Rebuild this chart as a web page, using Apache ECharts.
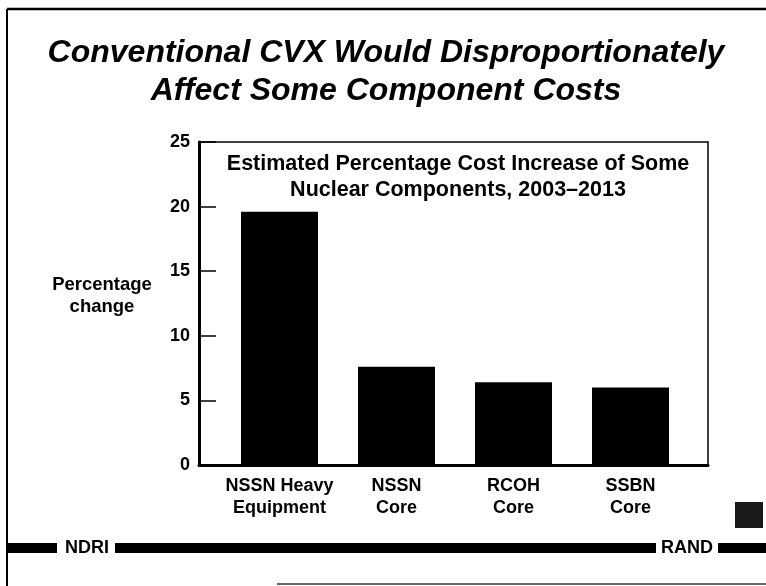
<!DOCTYPE html>
<html>
<head>
<meta charset="utf-8">
<script src="https://cdn.jsdelivr.net/npm/echarts@6/dist/echarts.min.js"></script>
<style>
  html, body { margin: 0; padding: 0; background: #fff; }
  #chart { width: 766px; height: 586px; }
</style>
</head>
<body>
<div id="chart"></div>
<script>
// values
const categories = ['NSSN Heavy\nEquipment', 'NSSN\nCore', 'RCOH\nCore', 'SSBN\nCore']
const increases = [19.6, 7.6, 6.4, 6.0]
const yMin = 0
const yMax = 25
const yStep = 5

const FONT = '"Liberation Sans", Arial, Helvetica, sans-serif'

const chart = echarts.init(document.getElementById('chart'))

// frame grid (axes + box) and bar grid share the same vertical extent
const plotTop = 142
const plotBottom = 121

chart.setOption({
  backgroundColor: '#fff',
  animation: false,
  grid: [
    {
      left: 199, right: 58, top: plotTop, bottom: plotBottom,
      show: true, borderColor: '#000', borderWidth: 1.5
    },
    { left: 221, right: 77, top: plotTop, bottom: plotBottom }
  ],
  xAxis: [
    {
      gridIndex: 0,
      type: 'category',
      data: categories,
      axisLine: { lineStyle: { color: '#000', width: 3 } },
      axisTick: { show: false },
      axisLabel: { show: false }
    },
    {
      gridIndex: 1,
      type: 'category',
      data: categories,
      axisLine: { show: false },
      axisTick: { show: false },
      axisLabel: {
        interval: 0,
        margin: 10,
        color: '#000',
        fontFamily: FONT,
        fontWeight: 'bold',
        fontSize: 18,
        lineHeight: 22
      }
    }
  ],
  yAxis: [
    {
      gridIndex: 0,
      type: 'value',
      min: yMin,
      max: yMax,
      interval: yStep,
      axisLine: { show: true, lineStyle: { color: '#000', width: 3 } },
      axisTick: { show: true, inside: true, length: 17, lineStyle: { color: '#000', width: 1.5 } },
      splitLine: { show: false },
      axisLabel: {
        margin: 9,
        color: '#000',
        fontFamily: FONT,
        fontWeight: 'bold',
        fontSize: 18
      }
    },
    {
      gridIndex: 1,
      type: 'value',
      min: yMin,
      max: yMax,
      interval: yStep,
      show: false
    }
  ],
  series: [
    {
      type: 'bar',
      xAxisIndex: 1,
      yAxisIndex: 1,
      data: increases,
      barWidth: 77,
      itemStyle: { color: '#000' }
    }
  ],
  graphic: [
    // slide frame
    { type: 'line', shape: { x1: 7, y1: 9, x2: 766, y2: 9 }, style: { stroke: '#000', lineWidth: 2.5 } },
    { type: 'line', shape: { x1: 7, y1: 9, x2: 7, y2: 586 }, style: { stroke: '#000', lineWidth: 2 } },
    { type: 'line', shape: { x1: 277, y1: 584, x2: 766, y2: 584 }, style: { stroke: '#333', lineWidth: 1.5 } },
    // title
    {
      type: 'text', x: 386, y: 34,
      style: {
        text: 'Conventional CVX Would Disproportionately\nAffect Some Component Costs',
        font: 'italic bold 32px ' + FONT,
        fill: '#000', align: 'center', verticalAlign: 'top', lineHeight: 38
      }
    },
    // chart caption inside the box
    {
      type: 'text', x: 458, y: 151,
      style: {
        text: 'Estimated Percentage Cost Increase of Some\nNuclear Components, 2003\u20132013',
        font: 'bold 21.5px ' + FONT,
        fill: '#000', align: 'center', verticalAlign: 'top', lineHeight: 26
      }
    },
    // y axis name
    {
      type: 'text', x: 102, y: 274,
      style: {
        text: 'Percentage\nchange',
        font: 'bold 18.5px ' + FONT,
        fill: '#000', align: 'center', verticalAlign: 'top', lineHeight: 22
      }
    },
    // footer band
    { type: 'rect', shape: { x: 7, y: 543, width: 50, height: 10 }, style: { fill: '#000' } },
    { type: 'rect', shape: { x: 115, y: 543, width: 541, height: 10 }, style: { fill: '#000' } },
    { type: 'rect', shape: { x: 718, y: 543, width: 48, height: 10 }, style: { fill: '#000' } },
    {
      type: 'text', x: 87, y: 548,
      style: { text: 'NDRI', font: 'bold 18px ' + FONT, fill: '#000', align: 'center', verticalAlign: 'middle' }
    },
    {
      type: 'text', x: 687, y: 548,
      style: { text: 'RAND', font: 'bold 18px ' + FONT, fill: '#000', align: 'center', verticalAlign: 'middle' }
    },
    // dark scan mark at lower right
    { type: 'rect', shape: { x: 735, y: 502, width: 28, height: 26 }, style: { fill: '#1a1a1a' } }
  ]
})
</script>
</body>
</html>
